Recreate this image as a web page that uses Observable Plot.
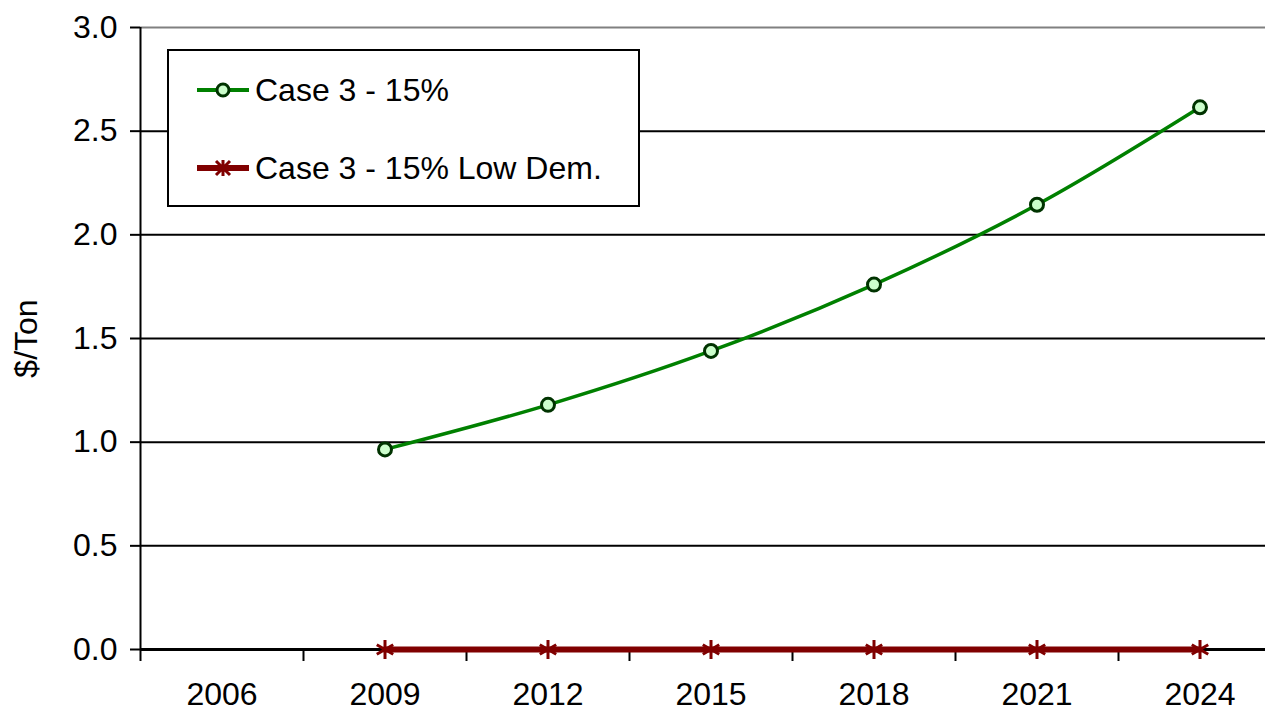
<!DOCTYPE html>
<html>
<head>
<meta charset="utf-8">
<script src="https://cdn.jsdelivr.net/npm/d3@7"></script>
<script src="https://cdn.jsdelivr.net/npm/@observablehq/plot@0.6"></script>
<style>
  html, body { margin: 0; padding: 0; background: white; }
  #wrap { position: relative; width: 1265px; height: 713px; overflow: hidden; font-family: "Liberation Sans", Arial, sans-serif; }
  #legend { position: absolute; left: 167px; top: 49px; width: 469px; height: 154px; border: 2px solid black; background: white; font-size: 32px; color: black; }
  .row { position: absolute; left: 28px; display: flex; align-items: center; height: 40px; }
  .row svg { display: block; margin-right: 4px; }
</style>
</head>
<body>
<div id="wrap">
  <div id="chart"></div>
  <div id="legend"></div>
</div>
<script>
const categories = [2006, 2009, 2012, 2015, 2018, 2021, 2024];
const seriesYears = [2009, 2012, 2015, 2018, 2021, 2024];
const case3 = [0.965, 1.18, 1.44, 1.76, 2.145, 2.615];
const case3LowDem = [0, 0, 0, 0, 0, 0];
const yTicks = [0, 0.5, 1.0, 1.5, 2.0, 2.5, 3.0];
const seriesNames = ["Case 3 - 15%", "Case 3 - 15% Low Dem."];
const yLabel = "$/Ton";

const green = seriesYears.map((x, i) => ({x, y: case3[i]}));
const red = seriesYears.map((x, i) => ({x, y: case3LowDem[i]}));
// category boundaries (Excel-style category axis ticks between labels)
const boundaries = categories.map(c => c - 1.5).concat([categories[categories.length - 1] + 1.5]);

const chart = Plot.plot({
  width: 1265,
  height: 713,
  marginLeft: 140,
  marginRight: 0,
  marginTop: 27,
  marginBottom: 64,
  style: { fontFamily: "'Liberation Sans', Arial, sans-serif", fontSize: "32px", background: "white", color: "black", overflow: "visible" },
  x: { type: "linear", domain: [categories[0] - 1.5, categories[categories.length - 1] + 1.5], range: [140, 1281] },
  y: { domain: [0, 3] },
  marks: [
    Plot.ruleY(yTicks.filter(d => d > 0 && d < 3), { stroke: "black", strokeWidth: 2 }),
    Plot.ruleY([3], { stroke: "#808080", strokeWidth: 2 }),
    Plot.ruleX([boundaries[0]], { stroke: "black", strokeWidth: 2 }),
    Plot.ruleY([0], { stroke: "black", strokeWidth: 3 }),
    Plot.axisY({ ticks: yTicks, tickSize: 10, tickPadding: 13, strokeWidth: 2, tickFormat: d3.format(".1f"),
                 label: yLabel, labelAnchor: "center", labelArrow: "none", labelOffset: 126 }),
    Plot.axisX({ ticks: boundaries, tickSize: 12, strokeWidth: 2, tickFormat: () => "", label: null }),
    Plot.axisX({ ticks: categories, tickSize: 0, tickPadding: 33, tickFormat: d => String(d), label: null }),
    Plot.line(red, { x: "x", y: "y", stroke: "#800000", strokeWidth: 6 }),
    Plot.dot(red, { x: "x", y: "y", symbol: "asterisk", r: 9, stroke: "#800000", strokeWidth: 3 }),
    Plot.line(green, { x: "x", y: "y", curve: "catmull-rom", stroke: "#008000", strokeWidth: 3.5 }),
    Plot.dot(green, { x: "x", y: "y", r: 6.5, fill: "#ccffcc", stroke: "#003300", strokeWidth: 3 })
  ]
});
document.getElementById("chart").appendChild(chart);

// legend
const legend = document.getElementById("legend");
const sym = [
  `<svg width="54" height="20"><line x1="0" y1="10" x2="52" y2="10" stroke="#008000" stroke-width="4"/><circle cx="26" cy="10" r="6" fill="#ccffcc" stroke="#003300" stroke-width="3"/></svg>`,
  `<svg width="54" height="20"><line x1="0" y1="10" x2="52" y2="10" stroke="#800000" stroke-width="6"/><path d="M19,3L33,17M33,3L19,17M26,2L26,18" stroke="#800000" stroke-width="3"/></svg>`
];
const tops = [19, 97];
seriesNames.forEach((name, i) => {
  const row = document.createElement("div");
  row.className = "row";
  row.style.top = tops[i] + "px";
  row.innerHTML = sym[i] + `<span>${name}</span>`;
  legend.appendChild(row);
});
</script>
</body>
</html>
